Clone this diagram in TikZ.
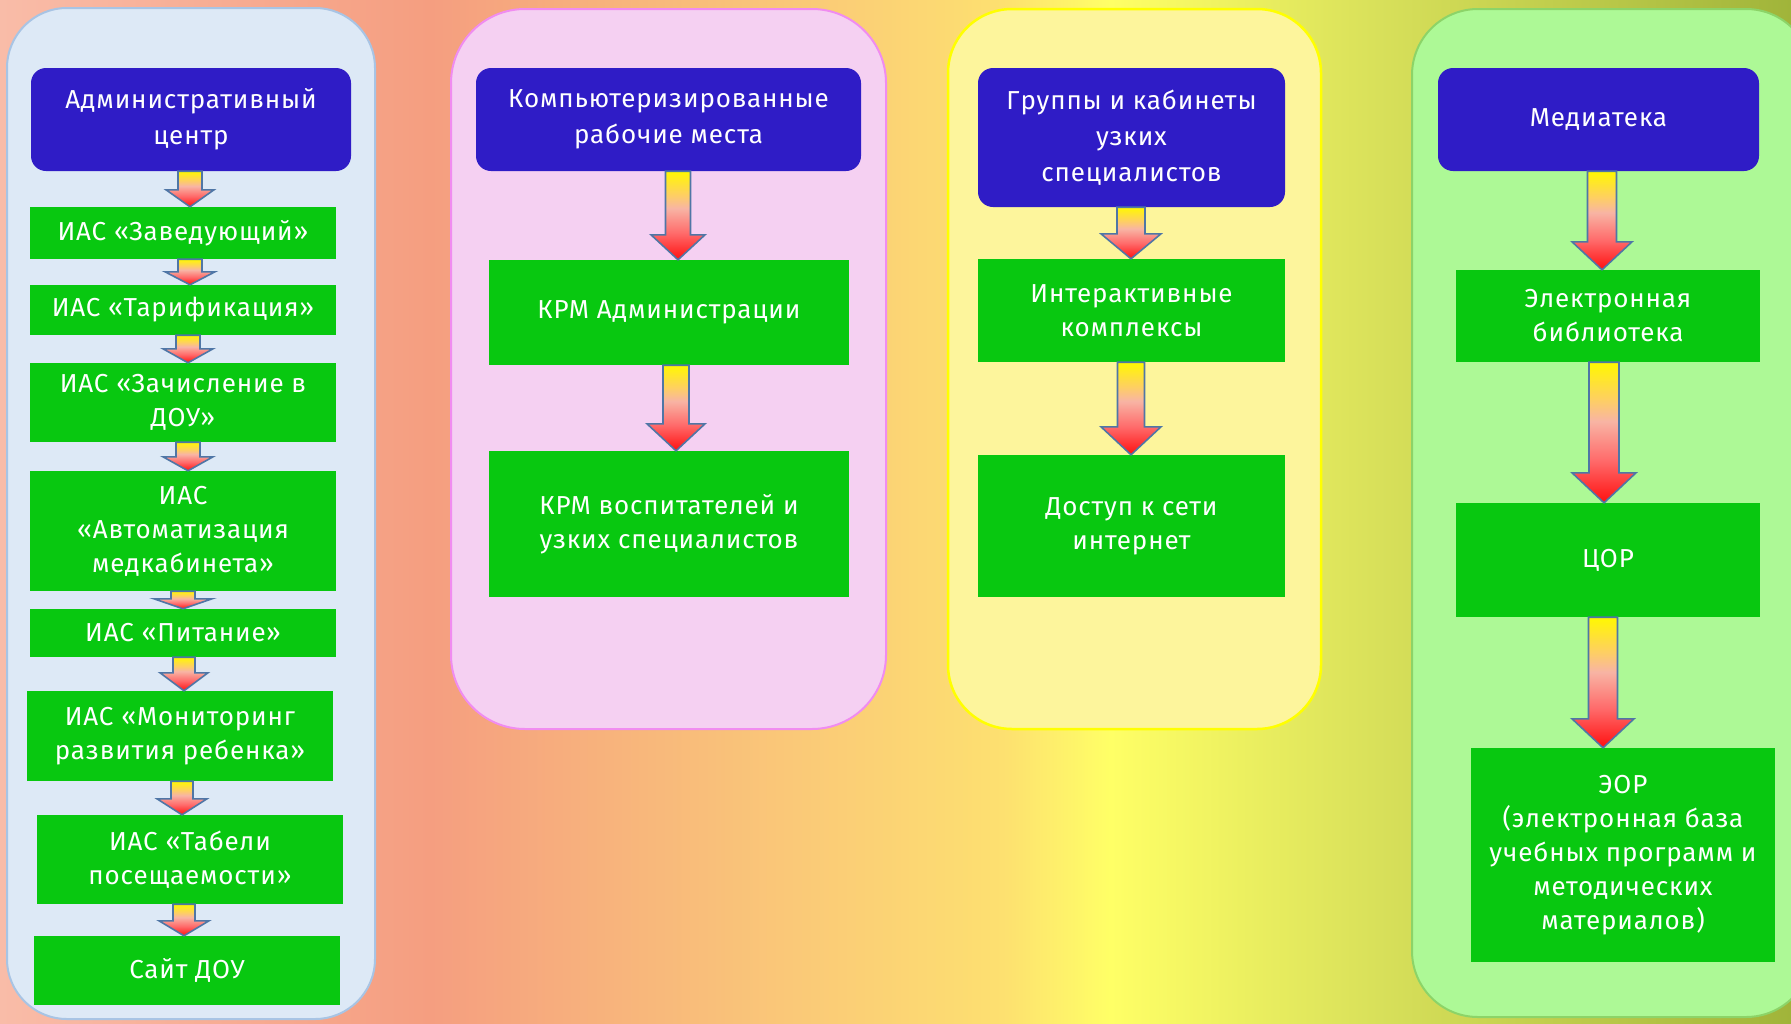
\documentclass[tikz,border=0pt]{standalone}
\usepackage{fontspec}
\setmainfont{Fira Sans}[LetterSpace=3.3]
\usetikzlibrary{calc}
\definecolor{bgA}{HTML}{F9BCA8}
\definecolor{bgB}{HTML}{F59E80}
\definecolor{bgC}{HTML}{FAC878}
\definecolor{bgD}{HTML}{FDE070}
\definecolor{bgE}{HTML}{FFFF66}
\definecolor{bgF}{HTML}{D8E05A}
\definecolor{bgG}{HTML}{A0B43A}
\definecolor{arR}{HTML}{FF1010}
\definecolor{arR2}{HTML}{FF6A6A}
\definecolor{arP}{HTML}{F8B4A4}
\definecolor{arO}{HTML}{FED060}
\definecolor{arY}{HTML}{FFF800}
\definecolor{arBorder}{HTML}{4F76A6}
\definecolor{hdrBlue}{HTML}{2F1CC6}
\definecolor{boxGreen}{HTML}{08C810}
\definecolor{p1fill}{HTML}{DDE9F6}
\definecolor{p1line}{HTML}{A8C4E4}
\definecolor{p2fill}{HTML}{F5D0F2}
\definecolor{p2line}{HTML}{F08CF0}
\definecolor{p3fill}{HTML}{FDF59C}
\definecolor{p3line}{HTML}{FFFF00}
\definecolor{p4fill}{HTML}{ADF996}
\definecolor{p4line}{HTML}{8CD468}
\pgfdeclarehorizontalshading{bgshade}{100bp}{color(0bp)=(bgA); color(25bp)=(bgA); color(37bp)=(bgB); color(47bp)=(bgC); color(53bp)=(bgD); color(56bp)=(bgE); color(63.5bp)=(bgF); color(75bp)=(bgG); color(100bp)=(bgG)}
\pgfdeclareverticalshading{arrowgrad}{100bp}{color(0bp)=(arR); color(25bp)=(arR); color(40bp)=(arR2); color(54bp)=(arP); color(62bp)=(arO); color(75bp)=(arY); color(100bp)=(arY)}
\tikzset{
  txt/.style={text=white, font=\fontsize{26}{34}\selectfont, align=center, inner sep=0pt},
  hdr/.style={txt, fill=hdrBlue, rounded corners=15, font=\fontsize{26}{36}\selectfont},
  gbox/.style={txt, fill=boxGreen},
  barrow/.style={draw=arBorder, line width=1.6, shading=arrowgrad, line join=miter},
  panel/.style={line width=2, rounded corners=#1},
}
\newcommand\blockarr[6]{%
  \path[barrow] let \p1=(#1.south), \p2=(#2.north), \p3=(#3,0) in
   (\x3-#4pt,\y1) -- (\x3+#4pt,\y1) -- (\x3+#4pt,\y2+#6pt) -- (\x3+#5pt,\y2+#6pt)
   -- (\x3,\y2) -- (\x3-#5pt,\y2+#6pt) -- (\x3-#4pt,\y2+#6pt) -- cycle;}
\begin{document}
\begin{tikzpicture}[x=1pt,y=-1pt]
\useasboundingbox (0,0) rectangle (1791,1023);
\clip (0,0) rectangle (1791,1023);
\fill[shading=bgshade] (0,0) rectangle (1791,1023);
% panels
\draw[panel=60, fill=p1fill, draw=p1line] (7,8) rectangle (375,1019);
\draw[panel=74, fill=p2fill, draw=p2line] (451,9) rectangle (886,729);
\draw[panel=64, fill=p3fill, draw=p3line, line width=2.5] (948,9) rectangle (1321,729);
\draw[panel=66, fill=p4fill, draw=p4line] (1412,9) rectangle (1812,1017);
% column 1
\node[hdr, minimum width=320, minimum height=103] (h1) at (191,119.5) {Административный\\центр};
\node[gbox, minimum width=306, minimum height=52] (g1) at (183,233) {ИАС «Заведующий»};
\node[gbox, minimum width=306, minimum height=50] (g2) at (183,310) {ИАС «Тарификация»};
\node[gbox, minimum width=306, minimum height=79] (g3) at (183,402.5) {ИАС «Зачисление в\\ДОУ»};
\node[gbox, minimum width=306, minimum height=120] (g4) at (183,531) {ИАС\\«Автоматизация\\медкабинета»};
\node[gbox, minimum width=306, minimum height=48] (g5) at (183,633) {ИАС «Питание»};
\node[gbox, minimum width=306, minimum height=90] (g6) at (180,736) {ИАС «Мониторинг\\развития ребенка»};
\node[gbox, minimum width=306, minimum height=89] (g7) at (190,859.5) {ИАС «Табели\\посещаемости»};
\node[gbox, minimum width=306, minimum height=69] (g8) at (187,970.5) {Сайт ДОУ};
% column 2
\node[hdr, minimum width=385, minimum height=103] (h2) at (668.5,119.5) {Компьютеризированные\\рабочие места};
\node[gbox, minimum width=360, minimum height=105] (k1) at (669,312.5) {КРМ Администрации};
\node[gbox, minimum width=360, minimum height=146] (k2) at (669,524) {КРМ воспитателей и\\узких специалистов};
% column 3
\node[hdr, minimum width=307, minimum height=139] (h3) at (1131.5,137.5) {Группы и кабинеты\\узких\\специалистов};
\node[gbox, minimum width=307, minimum height=103] (s1) at (1131.5,310.5) {Интерактивные\\комплексы};
\node[gbox, minimum width=307, minimum height=142] (s2) at (1131.5,526) {Доступ к сети\\интернет};
% column 4
\node[hdr, minimum width=321, minimum height=103] (h4) at (1598.5,119.5) {Медиатека};
\node[gbox, minimum width=304, minimum height=92] (m1) at (1608,316) {Электронная\\библиотека};
\node[gbox, minimum width=304, minimum height=114] (m2) at (1608,560) {ЦОР};
\node[gbox, minimum width=304, minimum height=214] (m3) at (1623,855) {ЭОР\\(электронная база\\учебных программ и\\методических\\материалов)};
% arrows
\blockarr{h1}{g1}{190}{12}{24}{17}
\blockarr{g1}{g2}{190}{12}{25}{13}
\blockarr{g2}{g3}{188}{12}{25}{14}
\blockarr{g3}{g4}{188}{12}{25}{14}
\blockarr{g4}{g5}{183}{12}{29}{10}
\blockarr{g5}{g6}{184}{11}{24}{18}
\blockarr{g6}{g7}{182}{11}{25}{16}
\blockarr{g7}{g8}{184}{11}{25}{15}
\blockarr{h2}{k1}{678}{12.5}{27}{25}
\blockarr{k1}{k2}{676}{13}{29}{27}
\blockarr{h3}{s1}{1131}{14}{30}{25}
\blockarr{s1}{s2}{1131}{13.5}{30}{28}
\blockarr{h4}{m1}{1602}{14.5}{30}{28}
\blockarr{m1}{m2}{1604}{15}{32}{30}
\blockarr{m2}{m3}{1603}{14.5}{31}{29}
\end{tikzpicture}
\end{document}
